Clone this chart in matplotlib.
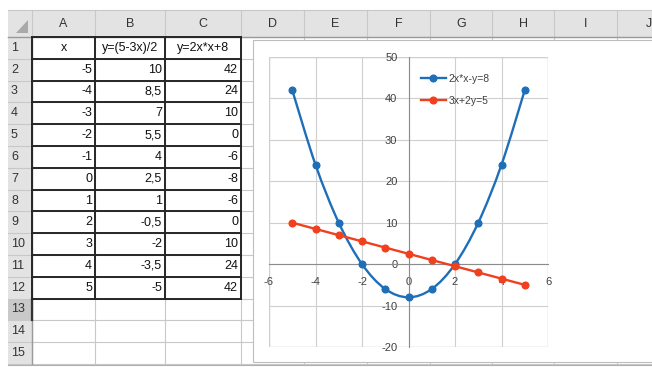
import matplotlib
matplotlib.use('Agg')
from matplotlib import pyplot as plt
from matplotlib.patches import Rectangle, Polygon, PathPatch
from matplotlib.path import Path
from matplotlib.lines import Line2D

plt.rcParams['font.family'] = ['Liberation Sans Narrow', 'Liberation Sans', 'DejaVu Sans']
plt.rcParams['axes.unicode_minus'] = False

# spreadsheet data
col_letters = ['A', 'B', 'C', 'D', 'E', 'F', 'G', 'H', 'I', 'J']
head = ['x', 'y=(5-3x)/2', 'y=2x*x+8']
x_vals = [-5, -4, -3, -2, -1, 0, 1, 2, 3, 4, 5]
y_line = [10, 8.5, 7, 5.5, 4, 2.5, 1, -0.5, -2, -3.5, -5]
y_par = [42, 24, 10, 0, -6, -8, -6, 0, 10, 24, 42]
name_par = '2x*x-y=8'
name_line = '3x+2y=5'

blue = '#1f6fb8'
red = '#f0401e'

W, H = 652, 367
fig = plt.figure(figsize=(W / 100, H / 100), dpi=100)

bg = fig.add_axes([0, 0, 1, 1])
bg.set_xlim(0, W)
bg.set_ylim(H, 0)
bg.axis('off')

col_edges = [8, 32, 95, 165, 241, 304, 367, 430, 492, 554, 617, 680]
row_edges = [10, 37] + [37 + 21.8 * n for n in range(1, 16)]

def fmt(v):
    return ('%g' % v).replace('.', ',')

# header band and row-number column
bg.add_patch(Rectangle((8, 10), W, 27, facecolor='#e3e3e3', edgecolor='none'))
bg.add_patch(Rectangle((8, 37), 24, row_edges[-1] - 37, facecolor='#e3e3e3', edgecolor='none'))
bg.add_patch(Rectangle((8, row_edges[13]), 24, 21.8, facecolor='#c9c9c9', edgecolor='none'))
bg.add_patch(Polygon([(28, 33), (28, 20), (16, 33)], closed=True, facecolor='#a9a9a9', edgecolor='none'))

# light cell grid
for xe in col_edges[1:]:
    bg.plot([xe, xe], [10, row_edges[-1]], color='#c8c8c8', lw=0.8, zorder=1)
for ye in row_edges:
    bg.plot([8, W], [ye, ye], color='#c8c8c8', lw=0.8, zorder=1)
bg.plot([8, W], [37, 37], color='#9a9a9a', lw=1.0, zorder=1)
bg.plot([32, 32], [37, row_edges[-1]], color='#9a9a9a', lw=1.0, zorder=1)
bg.plot([32, 32], [row_edges[13], row_edges[14]], color='#333333', lw=1.6, zorder=2)

# column letters and row numbers
for i, c in enumerate(col_letters):
    xc = (col_edges[i + 1] + col_edges[i + 2]) / 2
    bg.text(xc, 24, c, ha='center', va='center', fontsize=9, color='#333333')
for r in range(1, 16):
    yc = (row_edges[r] + row_edges[r + 1]) / 2
    bg.text(11, yc, str(r), ha='left', va='center', fontsize=9, color='#333333')

# table contents
for j, h in enumerate(head):
    xc = (col_edges[j + 1] + col_edges[j + 2]) / 2
    bg.text(xc, (row_edges[1] + row_edges[2]) / 2, h, ha='center', va='center',
            fontsize=9, color='#111111')
for i in range(len(x_vals)):
    yc = (row_edges[i + 2] + row_edges[i + 3]) / 2
    for j, v in enumerate([x_vals[i], y_line[i], y_par[i]]):
        bg.text(col_edges[j + 2] - 3, yc, fmt(v), ha='right', va='center',
                fontsize=9, color='#111111')

# dark borders around A1:C12
for xe in col_edges[1:5]:
    bg.plot([xe, xe], [row_edges[1], row_edges[13]], color='#262626', lw=1.4, zorder=3)
for ye in row_edges[1:14]:
    bg.plot([32, 241], [ye, ye], color='#262626', lw=1.4, zorder=3)

# chart object
bg.add_patch(Rectangle((253, 40), 420, 322, facecolor='white', edgecolor='#bdbdbd', lw=0.8, zorder=5))
bg.plot([8, W], [364.5, 364.5], color='#b0b0b0', lw=0.8, zorder=6)

ax = fig.add_axes([269 / W, 1 - 347 / H, 279 / W, 290 / H])
ax.set_xlim(-6, 6)
ax.set_ylim(-20, 50)
ax.set_xticks(range(-6, 7, 2))
ax.set_yticks(range(-20, 51, 10))
ax.grid(True, color='#cfcfcf', lw=0.8)
ax.set_axisbelow(True)
for s in ['top', 'right']:
    ax.spines[s].set_visible(False)
ax.spines['left'].set_position(('data', 0))
ax.spines['bottom'].set_position(('data', 0))
ax.spines['left'].set_color('#8c8c8c')
ax.spines['bottom'].set_color('#8c8c8c')
ax.add_patch(Rectangle((0, 0), 1, 1, transform=ax.transAxes, fill=False,
                       edgecolor='#bdbdbd', lw=0.9, zorder=0.5))
ax.tick_params(axis='both', length=0, labelsize=8, colors='#404040')
ax.tick_params(axis='y', pad=8)
ax.tick_params(axis='x', pad=9)


def smooth_path(xs, ys):
    # Excel-like smoothed line: Bezier segments through the points
    verts = [(xs[0], ys[0])]
    codes = [Path.MOVETO]
    n = len(xs)
    for i in range(n - 1):
        x0, y0 = xs[max(i - 1, 0)], ys[max(i - 1, 0)]
        x1, y1 = xs[i], ys[i]
        x2, y2 = xs[i + 1], ys[i + 1]
        x3, y3 = xs[min(i + 2, n - 1)], ys[min(i + 2, n - 1)]
        c1 = (x1 + (x2 - x0) / 6, y1 + (y2 - y0) / 6)
        c2 = (x2 - (x3 - x1) / 6, y2 - (y3 - y1) / 6)
        verts += [c1, c2, (x2, y2)]
        codes += [Path.CURVE4] * 3
    return Path(verts, codes)


for ys, col in [(y_par, blue), (y_line, red)]:
    ax.add_patch(PathPatch(smooth_path(x_vals, ys), fill=False, edgecolor=col,
                           lw=1.7, zorder=3, capstyle='round'))
    ax.plot(x_vals, ys, ls='none', marker='o', ms=4.8, color=col, zorder=4)

handles = [Line2D([], [], color=blue, lw=1.7, marker='o', ms=4.8),
           Line2D([], [], color=red, lw=1.7, marker='o', ms=4.8)]
leg = ax.legend(handles, [name_par, name_line], loc='upper left',
                bbox_to_anchor=(0.51, 0.975), frameon=False, fontsize=7.5,
                handlelength=2.4, labelspacing=1.2, handletextpad=0.3)
for t in leg.get_texts():
    t.set_color('#404040')

fig.savefig('out.png', dpi=100)
